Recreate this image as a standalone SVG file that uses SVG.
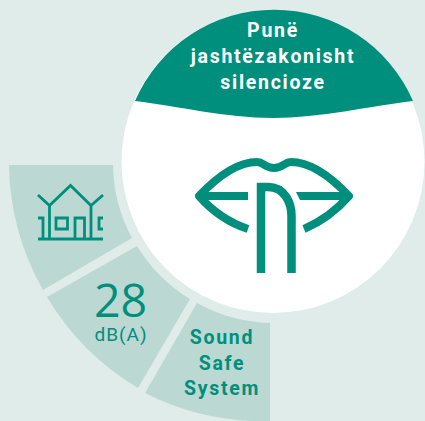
<svg xmlns="http://www.w3.org/2000/svg" width="425" height="421" viewBox="0 0 425 421">
<style>
.seg{fill:#bbd9d2}
.t{font-family:"Roboto","Liberation Sans",sans-serif;text-anchor:middle}
.b{font-weight:700;font-size:19.500px;letter-spacing:1.700px}
.w{fill:#fff}
.g{fill:#008f7c}
.s{fill:none;stroke:#008f7c}
</style>
<rect width="425" height="421" fill="#dfecea"/>
<g id="segment-house">
<path class="seg" d="M9 165H113A158 158 0 0 0 132 238L43 290A262 262 0 0 1 9 165Z"/>
<g class="s" stroke-width="2.800">
<path d="M38 195L49.500 205.500L70.500 185.500L91 205.500L103 195M49.500 205V239M91 205V239M38 239H103"/>
<path d="M38 218H43V239M56 218H67.500V229H56ZM75 239V218H84.500V239M103 218H99V229H103"/>
</g>
</g>
<g id="segment-db">
<path class="seg" d="M47 297L137 246A158 158 0 0 0 190 299L138 388A262 262 0 0 1 47 297Z"/>
<text class="t g" x="120.500" y="317" font-size="46.500" style="font-family:'Open Sans',sans-serif;font-weight:400">28</text>
<text class="t g" x="121" y="341" font-size="19" letter-spacing="1">dB(A)</text>
</g>
<g id="segment-sound">
<path class="seg" d="M197 303A160 160 0 0 0 270 323V421H251A262 262 0 0 1 145 393Z"/>
<text class="t b g" x="222" y="344">Sound</text>
<text class="t b g" x="222" y="370">Safe</text>
<text class="t b g" x="222" y="395">System</text>
</g>
<g id="badge">
<circle cx="273" cy="161.500" r="151.500" fill="#fff"/>
<path class="g" d="M135 101A151.500 151.500 0 0 1 413 101C370 106 320 118 273 118C226 118 178 106 135 101Z"/>
<text class="t b w" x="273" y="37">Punë</text>
<text class="t b w" x="273" y="63">jashtëzakonisht</text>
<text class="t b w" x="273" y="89">silencioze</text>
</g>
<g id="lips-icon" class="s" stroke-width="8" stroke-linejoin="round">
<path d="M248 229C230 223 213 212 199 196C218 176 238 162 257 162C264 162 264 168 274 168C284 168 284 162 291 162C310 162 330 176 349 196C335 212 318 223 304 229"/>
<path d="M199 196H248"/>
<path d="M296 192H349V200H300Z" fill="#008f7c" stroke="none"/>
<path d="M261 273V187H268C284 187 291.500 202 291.500 216V273" stroke-width="8.500" stroke-linejoin="miter"/>
</g>
</svg>
